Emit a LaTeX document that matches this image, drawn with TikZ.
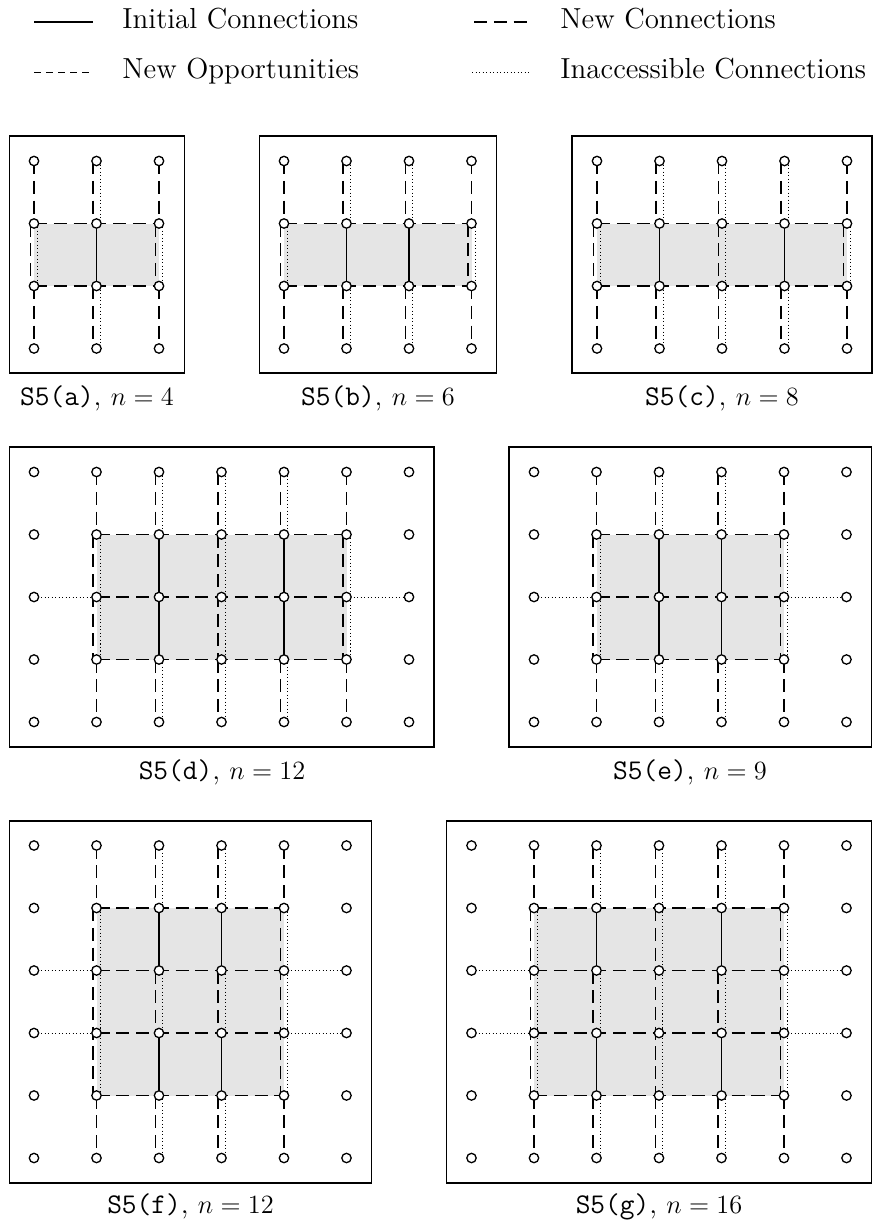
\documentclass[tikz,border=0pt]{standalone}
\usetikzlibrary{backgrounds}
\begin{document}
\begin{tikzpicture}[x=0.016cm,y=-0.016cm,
  gpt/.style={circle,draw,fill=white,inner sep=0pt,minimum size=0.15cm,line width=0.6pt},
  ini/.style={line width=0.5pt},
  newc/.style={line width=0.5pt,dash pattern=on 6pt off 3pt},
  opp/.style={line width=0.45pt,dash pattern=on 3pt off 2.5pt},
  inacc/.style={line width=0.45pt,dash pattern=on 0.5pt off 1.1pt},
  region/.style={fill=gray!20},
  frame/.style={draw,line width=0.6pt},
  capt/.style={anchor=base,font=\fontsize{13}{15}\selectfont,inner sep=0pt},
  leg/.style={anchor=base west,font=\fontsize{13.2}{15}\selectfont,inner sep=0pt}]
\newcommand\mkgrid[5]{\foreach \i in {0,...,#4}{\foreach \j in {0,...,#5}{\node[gpt] (#1-\i-\j) at ({#2+62.5*\i},{#3+62.5*\j}) {};}}}
\newcommand\pv[2]{\draw[newc]([xshift=-0.056cm]#1.center)--([xshift=-0.056cm]#2.center);\draw[inacc]([xshift=0.056cm]#1.center)--([xshift=0.056cm]#2.center);}
\newcommand\sv[2]{\draw[newc](#1.center)--(#2.center);}
\newcommand\iv[2]{\draw[ini](#1.center)--(#2.center);}
\newcommand\hd[2]{\draw[newc](#1.center)--(#2.center);}
\newcommand\hi[2]{\draw[inacc](#1.center)--(#2.center);}
\useasboundingbox (0,0) rectangle (875,1222);
% legend
\coordinate (l1a) at (34,22); \coordinate (l1b) at (93,22);
\coordinate (l2a) at (474,22); \coordinate (l2b) at (527,22);
\coordinate (l3a) at (34,72); \coordinate (l3b) at (93,72);
\coordinate (l4a) at (472,72); \coordinate (l4b) at (529,72);
\draw[ini] (l1a)--(l1b);
\draw[newc] (l2a)--(l2b);
\draw[opp] (l3a)--(l3b);
\draw[inacc] (l4a)--(l4b);
\node[leg] (t1) at (122,28) {Initial Connections};
\node[leg] (t2) at (560,28) {New Connections};
\node[leg] (t3) at (122,78) {New Opportunities};
\node[leg] (t4) at (560,78) {Inaccessible Connections};
% frames
\draw[frame] (9.5,136) rectangle (184.5,373);
\draw[frame] (259.5,136) rectangle (496.5,373);
\draw[frame] (572,136) rectangle (872,373);
\draw[frame] (9.5,447) rectangle (434,747);
\draw[frame] (509,447) rectangle (871.5,747);
\draw[frame] (9.5,821) rectangle (371.5,1183);
\draw[frame] (446.5,821) rectangle (871.5,1183);
% captions
\node[capt] (capa) at (97,405) {\texttt{S5(a)}, $n=4$};
\node[capt] (capb) at (378,405) {\texttt{S5(b)}, $n=6$};
\node[capt] (capc) at (722,405) {\texttt{S5(c)}, $n=8$};
\node[capt] (capd) at (222,779) {\texttt{S5(d)}, $n=12$};
\node[capt] (cape) at (690,779) {\texttt{S5(e)}, $n=9$};
\node[capt] (capf) at (190.5,1213) {\texttt{S5(f)}, $n=12$};
\node[capt] (capg) at (659,1213) {\texttt{S5(g)}, $n=16$};
% grids
\mkgrid{a}{34}{161}{2}{3}
\mkgrid{b}{284}{161}{3}{3}
\mkgrid{c}{597}{161}{4}{3}
\mkgrid{d}{34}{472}{6}{4}
\mkgrid{e}{534}{472}{5}{4}
\mkgrid{f}{34}{845.5}{5}{5}
\mkgrid{g}{471.5}{845.5}{6}{5}
\begin{scope}[on background layer]
% panel a
\fill[region] (a-0-1.center) rectangle (a-2-2.center);
\sv{a-0-0}{a-0-1}\pv{a-1-0}{a-1-1}\sv{a-2-0}{a-2-1}
\sv{a-0-2}{a-0-3}\pv{a-1-2}{a-1-3}\sv{a-2-2}{a-2-3}
\pv{a-0-1}{a-0-2}\iv{a-1-1}{a-1-2}\pv{a-2-1}{a-2-2}
\hd{a-0-1}{a-2-1}\hd{a-0-2}{a-2-2}
% panel b
\fill[region] (b-0-1.center) rectangle (b-3-2.center);
\sv{b-0-0}{b-0-1}\pv{b-1-0}{b-1-1}\pv{b-2-0}{b-2-1}\sv{b-3-0}{b-3-1}
\sv{b-0-2}{b-0-3}\pv{b-1-2}{b-1-3}\pv{b-2-2}{b-2-3}\sv{b-3-2}{b-3-3}
\pv{b-0-1}{b-0-2}\iv{b-1-1}{b-1-2}\iv{b-2-1}{b-2-2}\pv{b-3-1}{b-3-2}
\hd{b-0-1}{b-3-1}\hd{b-0-2}{b-3-2}
% panel c
\fill[region] (c-0-1.center) rectangle (c-4-2.center);
\sv{c-0-0}{c-0-1}\pv{c-1-0}{c-1-1}\pv{c-2-0}{c-2-1}\pv{c-3-0}{c-3-1}\sv{c-4-0}{c-4-1}
\sv{c-0-2}{c-0-3}\pv{c-1-2}{c-1-3}\pv{c-2-2}{c-2-3}\pv{c-3-2}{c-3-3}\sv{c-4-2}{c-4-3}
\pv{c-0-1}{c-0-2}\iv{c-1-1}{c-1-2}\pv{c-2-1}{c-2-2}\iv{c-3-1}{c-3-2}\pv{c-4-1}{c-4-2}
\hd{c-0-1}{c-4-1}\hd{c-0-2}{c-4-2}
% panel d
\fill[region] (d-1-1.center) rectangle (d-5-3.center);
\sv{d-1-0}{d-1-1}\pv{d-2-0}{d-2-1}\pv{d-3-0}{d-3-1}\pv{d-4-0}{d-4-1}\sv{d-5-0}{d-5-1}
\sv{d-1-3}{d-1-4}\pv{d-2-3}{d-2-4}\pv{d-3-3}{d-3-4}\pv{d-4-3}{d-4-4}\sv{d-5-3}{d-5-4}
\pv{d-1-1}{d-1-3}\iv{d-2-1}{d-2-3}\pv{d-3-1}{d-3-3}\iv{d-4-1}{d-4-3}\pv{d-5-1}{d-5-3}
\hd{d-1-1}{d-5-1}\hd{d-1-2}{d-5-2}\hd{d-1-3}{d-5-3}
\hi{d-0-2}{d-1-2}\hi{d-5-2}{d-6-2}
% panel e
\fill[region] (e-1-1.center) rectangle (e-4-3.center);
\sv{e-1-0}{e-1-1}\pv{e-2-0}{e-2-1}\pv{e-3-0}{e-3-1}\sv{e-4-0}{e-4-1}
\sv{e-1-3}{e-1-4}\pv{e-2-3}{e-2-4}\pv{e-3-3}{e-3-4}\sv{e-4-3}{e-4-4}
\pv{e-1-1}{e-1-3}\iv{e-2-1}{e-2-3}\iv{e-3-1}{e-3-3}\pv{e-4-1}{e-4-3}
\hd{e-1-1}{e-4-1}\hd{e-1-2}{e-4-2}\hd{e-1-3}{e-4-3}
\hi{e-0-2}{e-1-2}\hi{e-4-2}{e-5-2}
% panel f
\fill[region] (f-1-1.center) rectangle (f-4-4.center);
\sv{f-1-0}{f-1-1}\pv{f-2-0}{f-2-1}\pv{f-3-0}{f-3-1}\sv{f-4-0}{f-4-1}
\sv{f-1-4}{f-1-5}\pv{f-2-4}{f-2-5}\pv{f-3-4}{f-3-5}\sv{f-4-4}{f-4-5}
\pv{f-1-1}{f-1-4}\pv{f-4-1}{f-4-4}
\iv{f-2-1}{f-2-2}\pv{f-2-2}{f-2-3}\iv{f-2-3}{f-2-4}
\iv{f-3-1}{f-3-2}\pv{f-3-2}{f-3-3}\iv{f-3-3}{f-3-4}
\hd{f-1-1}{f-4-1}\hd{f-1-2}{f-4-2}\hd{f-1-3}{f-4-3}\hd{f-1-4}{f-4-4}
\hi{f-0-2}{f-1-2}\hi{f-4-2}{f-5-2}\hi{f-0-3}{f-1-3}\hi{f-4-3}{f-5-3}
% panel g
\fill[region] (g-1-1.center) rectangle (g-5-4.center);
\sv{g-1-0}{g-1-1}\pv{g-2-0}{g-2-1}\pv{g-3-0}{g-3-1}\pv{g-4-0}{g-4-1}\sv{g-5-0}{g-5-1}
\sv{g-1-4}{g-1-5}\pv{g-2-4}{g-2-5}\pv{g-3-4}{g-3-5}\pv{g-4-4}{g-4-5}\sv{g-5-4}{g-5-5}
\pv{g-1-1}{g-1-4}\pv{g-3-1}{g-3-4}\pv{g-5-1}{g-5-4}
\iv{g-2-1}{g-2-2}\pv{g-2-2}{g-2-3}\iv{g-2-3}{g-2-4}
\iv{g-4-1}{g-4-2}\pv{g-4-2}{g-4-3}\iv{g-4-3}{g-4-4}
\hd{g-1-1}{g-5-1}\hd{g-1-2}{g-5-2}\hd{g-1-3}{g-5-3}\hd{g-1-4}{g-5-4}
\hi{g-0-2}{g-1-2}\hi{g-5-2}{g-6-2}\hi{g-0-3}{g-1-3}\hi{g-5-3}{g-6-3}
\end{scope}
\end{tikzpicture}
\end{document}
